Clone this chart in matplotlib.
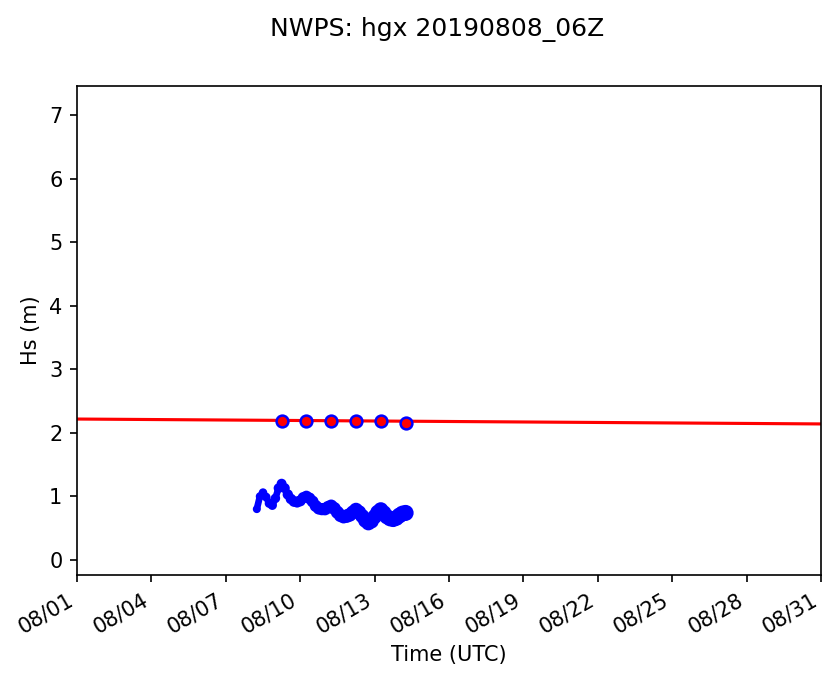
import matplotlib
matplotlib.use("Agg")
import matplotlib.pyplot as plt
import matplotlib.dates as mdates
import numpy as np
from datetime import datetime, timedelta

# model run start and blue series (3-hourly Hs, m)
run_start = datetime(2019, 8, 8, 6)
hs_values = [0.80, 1.00, 1.06, 0.99, 0.89, 0.86, 0.97, 1.13, 1.20, 1.13,
             1.03, 0.96, 0.92, 0.91, 0.93, 0.98, 1.00, 0.97, 0.92, 0.85,
             0.81, 0.80, 0.80, 0.83, 0.85, 0.81, 0.75, 0.70, 0.68, 0.69,
             0.71, 0.75, 0.79, 0.75, 0.69, 0.62, 0.58, 0.61, 0.68, 0.75,
             0.79, 0.74, 0.68, 0.65, 0.64, 0.66, 0.70, 0.73, 0.74]
hs_times = [run_start + timedelta(hours=3 * i) for i in range(len(hs_values))]

# red reference line
ref_times = [datetime(2019, 8, 1), datetime(2019, 8, 31)]
ref_values = [2.217, 2.14]

# daily red points
daily_times = [datetime(2019, 8, d, 6) for d in range(9, 15)]
daily_values = [2.19, 2.19, 2.19, 2.19, 2.19, 2.16]

fig = plt.figure(figsize=(839 / 150, 681 / 150), dpi=150)
ax = fig.add_axes([0.0918, 0.1557, 0.8867, 0.718])

ax.plot(ref_times, ref_values, color='red', lw=1.5, zorder=2)

sizes = np.linspace(8, 45, len(hs_values))
ax.plot(hs_times, hs_values, color='blue', lw=3.2, solid_capstyle='round',
        solid_joinstyle='round', zorder=3)
ax.scatter(hs_times, hs_values, s=sizes, color='blue', zorder=3)

ax.scatter(daily_times, daily_values, s=32, color='red', edgecolors='blue',
           linewidths=1.2, zorder=4)

ax.set_xlim(datetime(2019, 8, 1), datetime(2019, 8, 31))
ax.set_ylim(-0.236, 7.456)
ax.xaxis.set_major_locator(mdates.DayLocator(bymonthday=range(1, 32, 3)))
ax.xaxis.set_major_formatter(mdates.DateFormatter('%m/%d'))
for lab in ax.get_xticklabels():
    lab.set_rotation(30)
    lab.set_ha('right')

ax.set_xlabel('Time (UTC)')
ax.set_ylabel('Hs (m)')
fig.suptitle('NWPS: hgx 20190808_06Z', x=0.521, y=0.975)

fig.savefig('out.png', dpi=150)
